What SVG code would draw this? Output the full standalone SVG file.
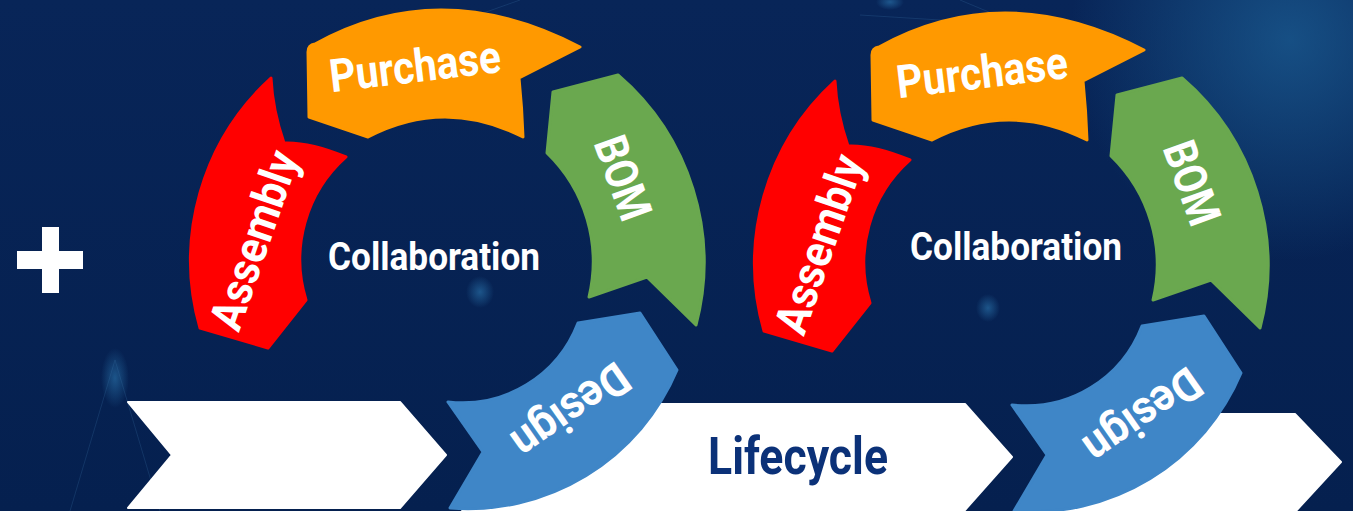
<svg xmlns="http://www.w3.org/2000/svg" width="1353" height="511" viewBox="0 0 1353 511">
  <defs>
    <radialGradient id="glowTR" cx="1290" cy="40" r="220" gradientUnits="userSpaceOnUse">
      <stop offset="0" stop-color="#1b5d93" stop-opacity="0.75"/>
      <stop offset="1" stop-color="#1b5d93" stop-opacity="0"/>
    </radialGradient>
    <radialGradient id="glowS" cx="0.5" cy="0.5" r="0.5">
      <stop offset="0" stop-color="#2f7fb8" stop-opacity="0.55"/>
      <stop offset="1" stop-color="#2f7fb8" stop-opacity="0"/>
    </radialGradient>
    <linearGradient id="bg" x1="0" y1="0" x2="0" y2="1">
      <stop offset="0" stop-color="#082558"/>
      <stop offset="1" stop-color="#05204f"/>
    </linearGradient>
  </defs>
  <style>
    .seg { stroke-width: 3; stroke-linejoin: round; }
    .purchase { fill: #FF9900; stroke: #FF9900; }
    .assembly { fill: #FF0000; stroke: #FF0000; }
    .bom { fill: #6AA84F; stroke: #6AA84F; }
    .design { fill: #3F86C7; stroke: #3F86C7; }
    .lbl { font-family: Roboto, "Liberation Sans", sans-serif; font-weight: 700; font-size: 46px; fill: #FFFFFF; text-anchor: middle; }
    .center { font-family: Roboto, "Liberation Sans", sans-serif; font-weight: 700; font-size: 38px; fill: #FFFFFF; text-anchor: middle; }
    .chev { fill: #FFFFFF; stroke: #FFFFFF; stroke-width: 2; stroke-linejoin: round; }
    .life { font-family: Roboto, "Liberation Sans", sans-serif; font-weight: 700; font-size: 52px; fill: #0B3178; text-anchor: middle; }
  </style>

  <!-- background -->
  <rect x="0" y="0" width="1353" height="511" fill="url(#bg)"/>
  <rect x="0" y="0" width="1353" height="511" fill="url(#glowTR)"/>
  <ellipse cx="115" cy="378" rx="14" ry="30" fill="url(#glowS)"/>
  <ellipse cx="480" cy="292" rx="14" ry="16" fill="url(#glowS)"/>
  <ellipse cx="988" cy="308" rx="12" ry="14" fill="url(#glowS)"/>
  <ellipse cx="1020" cy="25" rx="14" ry="10" fill="url(#glowS)"/>
  <ellipse cx="890" cy="2" rx="14" ry="8" fill="url(#glowS)"/>
  <g stroke="#3a73a8" stroke-opacity="0.25" stroke-width="1" fill="none">
    <path d="M 430 32 L 520 0"/>
    <path d="M 1020 25 L 960 0 M 1020 25 L 860 15"/>
    <path d="M 115 360 L 70 511 M 115 360 L 160 511"/>
  </g>

  <!-- plus sign -->
  <g id="plus">
    <rect x="17" y="251" width="66" height="18" fill="#FFFFFF"/>
    <rect x="42" y="227" width="17" height="66" fill="#FFFFFF"/>
  </g>

  <!-- lifecycle chevrons -->
  <g id="chevron-1">
    <path class="chev" d="M 128 402 L 400 402 L 446 455 L 400 508 L 128 508 L 172 455 Z"/>
  </g>
  <g id="chevron-lifecycle">
    <path class="chev" d="M 462 404 L 965 404 L 1012 457 L 965 510 L 462 510 L 506 457 Z"/>
    <text class="life" x="798" y="474" textLength="180" lengthAdjust="spacingAndGlyphs">Lifecycle</text>
  </g>
  <g id="chevron-3">
    <path class="chev" d="M 1032 414 L 1295 414 L 1341 462 L 1295 512 L 1032 512 L 1076 462 Z"/>
  </g>

  <!-- cycle 1 -->
  <g id="cycle-1">
    <g id="purchase-1">
      <path class="seg purchase" d="M 308 52 Q 308 45 315 44 Q 440.5 -25.5 580 47 L 519 78 Q 522 108 523 137 Q 444.5 97 368 137 L 309 117 Z"/>
      <text class="lbl" transform="translate(417,82) rotate(-6.8)" textLength="172" lengthAdjust="spacingAndGlyphs">Purchase</text>
    </g>
    <g id="assembly-1">
      <path class="seg assembly" d="M 271 78 Q 272.5 109.5 284 143 Q 310 142 346 157 A 137 137 0 0 0 306 300 L 268 348 L 200 328 A 247 247 0 0 1 271 78 Z"/>
      <text class="lbl" transform="translate(254,240) rotate(-71)" y="16" textLength="186" lengthAdjust="spacingAndGlyphs">Assembly</text>
    </g>
    <g id="bom-1">
      <path class="seg bom" d="M 553 92 L 618 75 A 247 247 0 0 1 696 325 L 647 277 L 589 297 A 151 151 0 0 0 547 153 Z"/>
      <text class="lbl" transform="translate(623,178) rotate(70)" y="16" textLength="86" lengthAdjust="spacingAndGlyphs">BOM</text>
    </g>
    <g id="design-1">
      <path class="seg design" d="M 448 402 A 124 124 0 0 0 578 323 L 640 313 L 677 370 A 227 227 0 0 1 450 508 L 483 452 Z"/>
      <text class="lbl" transform="translate(571,411) rotate(145)" y="16" textLength="132" lengthAdjust="spacingAndGlyphs">Design</text>
    </g>
    <g id="collaboration-1">
      <text class="center" x="434" y="270" textLength="212" lengthAdjust="spacingAndGlyphs">Collaboration</text>
    </g>
  </g>

  <!-- cycle 2 -->
  <g id="cycle-2" transform="translate(564,3)">
    <g id="purchase-2">
      <path class="seg purchase" d="M 308 52 Q 308 45 315 44 Q 440.5 -25.5 580 47 L 519 78 Q 522 108 523 137 Q 444.5 97 368 137 L 309 117 Z"/>
      <text class="lbl" transform="translate(420,85) rotate(-6.8)" textLength="172" lengthAdjust="spacingAndGlyphs">Purchase</text>
    </g>
    <g id="assembly-2">
      <path class="seg assembly" d="M 271 78 Q 272.5 109.5 284 143 Q 310 142 346 157 A 137 137 0 0 0 306 300 L 268 348 L 200 328 A 247 247 0 0 1 271 78 Z"/>
      <text class="lbl" transform="translate(255,241) rotate(-71)" y="16" textLength="186" lengthAdjust="spacingAndGlyphs">Assembly</text>
    </g>
    <g id="bom-2">
      <path class="seg bom" d="M 553 92 L 618 75 A 247 247 0 0 1 696 325 L 647 277 L 589 297 A 151 151 0 0 0 547 153 Z"/>
      <text class="lbl" transform="translate(628,180) rotate(70)" y="16" textLength="86" lengthAdjust="spacingAndGlyphs">BOM</text>
    </g>
    <g id="design-2">
      <path class="seg design" d="M 448 402 A 124 124 0 0 0 578 323 L 640 313 L 677 370 A 227 227 0 0 1 450 508 L 483 452 Z"/>
      <text class="lbl" transform="translate(579,413) rotate(145)" y="16" textLength="132" lengthAdjust="spacingAndGlyphs">Design</text>
    </g>
    <g id="collaboration-2">
      <text class="center" x="452" y="257" textLength="212" lengthAdjust="spacingAndGlyphs">Collaboration</text>
    </g>
  </g>
</svg>
